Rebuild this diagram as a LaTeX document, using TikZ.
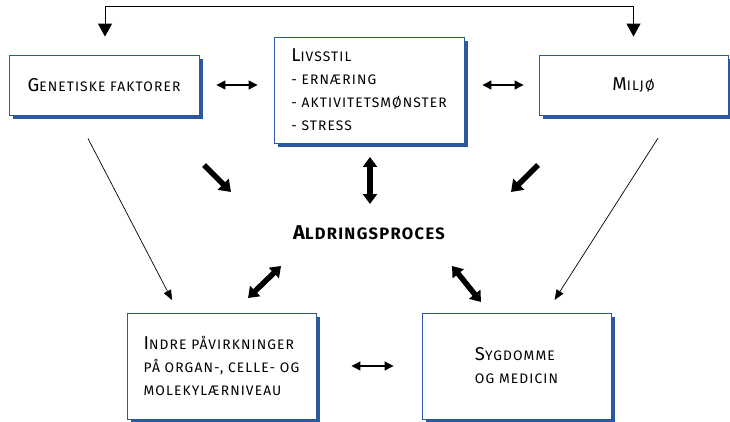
\documentclass[tikz,border=0pt]{standalone}
\usepackage{fontspec}
\setmainfont{Fira Sans}[BoldFont={Fira Sans Bold}]
\usetikzlibrary{arrows.meta,shadows,calc}
\definecolor{boxblue}{HTML}{2A58A2}
\newcommand\bcapx[1]{{\fontsize{18.6}{23}\selectfont #1}}
\newcommand\bcapy[1]{{\fontsize{20}{23}\selectfont #1}}
\tikzset{
  box/.style={draw=boxblue, line width=0.9pt, fill=white, minimum width=190pt,
    drop shadow={shadow xshift=4pt, shadow yshift=-4pt, fill=boxblue, opacity=1}},
  lbl/.style={font=\fontsize{13.8}{23}\selectfont\addfontfeature{LetterSpace=8}, align=left},
  thin/.style={line width=0.7pt, -{Triangle[length=10pt,width=8pt]}},
  dbl/.style={line width=1.2pt, {Triangle[length=9pt,width=9pt]}-{Triangle[length=9pt,width=9pt]}},
  fat/.style={line width=5.5pt, -{Triangle[length=11pt,width=15pt]}},
  fatdbl/.style={line width=5.5pt, {Triangle[length=10pt,width=14pt]}-{Triangle[length=10pt,width=14pt]}},
}
\begin{document}
\begin{tikzpicture}[x=1pt,y=-1pt]
\useasboundingbox (0,0) rectangle (730,422);
\node[box, minimum height=60pt, lbl] (gen) at (104,85) {\bcapx{G}ENETISKE FAKTORER};
\node[box, minimum height=106pt, lbl] (liv) at (369,90) {\bcapx{L}IVSSTIL\\- ERNÆRING\\- AKTIVITETSMØNSTER\\- STRESS};
\node[box, minimum height=60pt, minimum width=189pt, lbl] (mil) at (633.5,85) {\bcapx{M}ILJØ};
\node[box, minimum height=106pt, minimum width=189pt, lbl] (ind) at (221.5,366) {\bcapx{I}NDRE PÅVIRKNINGER\\PÅ ORGAN-, CELLE- OG\\MOLEKYLÆRNIVEAU};
\node[box, minimum height=106pt, minimum width=189pt, lbl] (syg) at (516.5,366) {\bcapx{S}YGDOMME\\OG MEDICIN};
\node[font=\fontsize{16.5}{18}\selectfont\bfseries\addfontfeature{LetterSpace=8}] (ald) at (369,233) {\bcapy{A}LDRINGSPROCES};

% top connector
\coordinate (top) at (370,7);
\draw[line width=1pt, {Triangle[length=13pt,width=14pt]}-{Triangle[length=13pt,width=14pt]}, shorten <=18pt, shorten >=18pt]
  ([xshift=1pt]gen.north) -- ([xshift=1pt]gen.north |- top) -- (mil.north |- top) -- (mil.north);

% small double arrows
\draw[dbl, shorten <=17pt, shorten >=16pt] (gen.east) -- (gen.east -| liv.west);
\draw[dbl, shorten <=18pt, shorten >=15pt] (gen.east -| liv.east) -- (mil.west);
\draw[dbl, shorten <=35pt, shorten >=28pt] (ind.east) -- (syg.west);

% thin diagonals
\draw[thin, shorten <=26pt, shorten >=14pt] ([xshift=-28pt]gen.south) -- ([xshift=-43pt]ind.north);
\draw[thin, shorten <=27pt, shorten >=15pt] ([xshift=39pt]mil.south) -- ([xshift=30pt]syg.north);

% thick arrows around Aldringsproces
\coordinate (a1) at (204,165); \coordinate (a2) at (231,192);
\coordinate (b1) at (538,165); \coordinate (b2) at (511,192);
\coordinate (c1) at (370,157); \coordinate (c2) at (370,204);
\coordinate (d1) at (248,298); \coordinate (d2) at (281,266);
\coordinate (e1) at (452,266); \coordinate (e2) at (481,302);
\draw[fat] (a1) -- (a2);
\draw[fat] (b1) -- (b2);
\draw[fatdbl] (c1) -- (c2);
\draw[fatdbl] (d1) -- (d2);
\draw[fatdbl] (e1) -- (e2);
\end{tikzpicture}
\end{document}
